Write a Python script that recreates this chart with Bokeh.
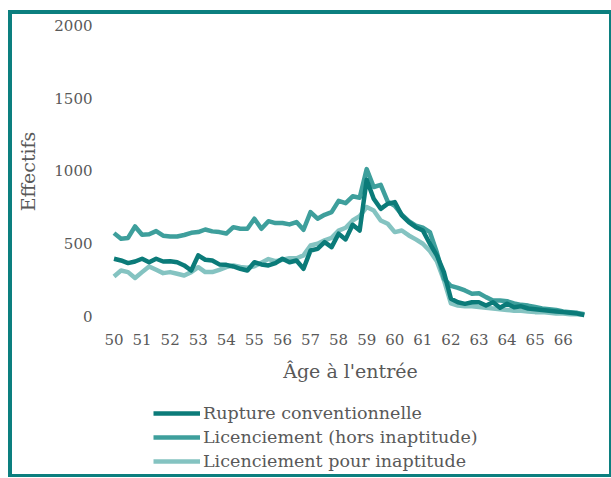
from bokeh.plotting import figure
from bokeh.models import FixedTicker, Legend, LegendItem, Range1d, Spacer
from bokeh.layouts import column, row
from bokeh.embed import file_html
from bokeh.resources import INLINE

# ---- data (quarterly) ----
ages = [50.0, 50.25, 50.5, 50.75, 51.0, 51.25, 51.5, 51.75, 52.0, 52.25, 52.5, 52.75,
        53.0, 53.25, 53.5, 53.75, 54.0, 54.25, 54.5, 54.75, 55.0, 55.25, 55.5, 55.75,
        56.0, 56.25, 56.5, 56.75, 57.0, 57.25, 57.5, 57.75, 58.0, 58.25, 58.5, 58.75,
        59.0, 59.25, 59.5, 59.75, 60.0, 60.25, 60.5, 60.75, 61.0, 61.25, 61.5, 61.75,
        62.0, 62.25, 62.5, 62.75, 63.0, 63.25, 63.5, 63.75, 64.0, 64.25, 64.5, 64.75,
        65.0, 65.25, 65.5, 65.75, 66.0, 66.25, 66.5, 66.75]

rupture = [397, 385, 367, 378, 397, 373, 397, 378, 380, 373, 351, 316,
           420, 390, 385, 358, 355, 344, 328, 316, 373, 358, 351, 367,
           397, 373, 385, 328, 454, 465, 511, 477, 569, 530, 630, 591,
           940, 809, 740, 775, 786, 695, 649, 614, 591, 500, 420, 305,
           122, 98, 87, 98, 98, 76, 98, 60, 87, 64, 70, 55,
           50, 45, 40, 35, 30, 25, 20, 10]

licenciement_hors = [573, 534, 540, 619, 562, 565, 587, 555, 550, 550, 560, 575,
                     580, 598, 585, 580, 570, 614, 603, 603, 672, 603, 655, 642,
                     642, 633, 649, 596, 717, 672, 699, 717, 795, 779, 826, 816,
                     1013, 890, 905, 790, 760, 700, 655, 625, 610, 580, 440, 260,
                     210, 197, 179, 156, 160, 133, 110, 110, 105, 90, 80, 75,
                     65, 55, 50, 45, 35, 30, 25, 15]

licenciement_inapt = [275, 316, 305, 265, 305, 344, 321, 298, 305, 294, 282, 305,
                      339, 305, 305, 321, 339, 351, 340, 335, 345, 370, 395, 380,
                      390, 400, 400, 420, 488, 500, 523, 540, 590, 610, 660, 690,
                      752, 729, 660, 637, 580, 591, 557, 530, 500, 450, 380, 250,
                      90, 75, 70, 70, 65, 60, 55, 50, 45, 40, 40, 35,
                      30, 30, 25, 20, 20, 15, 15, 10]

series_names = ["Rupture conventionnelle", "Licenciement (hors inaptitude)",
                "Licenciement pour inaptitude"]
x_ticks = [50, 51, 52, 53, 54, 55, 56, 57, 58, 59, 60, 61, 62, 63, 64, 65, 66]
y_ticks = [0, 500, 1000, 1500, 2000]

# ---- styling ----
FONT = "DejaVu Serif"
TXT = "#595959"
C_DARK = "#0b7b79"
C_MED = "#3e9f9c"
C_LIGHT = "#84c3c1"
BORDER = "#0c7f7f"
LW = 4.5

# ---- main chart ----
p = figure(width=597, height=386, output_backend="svg", toolbar_location=None,
           x_range=Range1d(49.697, 67.150), y_range=Range1d(-34.4, 2027.5),
           min_border_left=93, min_border_right=14, min_border_top=7,
           min_border_bottom=79)
p.outline_line_color = None
p.xgrid.grid_line_color = None
p.ygrid.grid_line_color = None

p.line(ages, licenciement_inapt, line_color=C_LIGHT, line_width=LW, line_join="round")
p.line(ages, licenciement_hors, line_color=C_MED, line_width=LW, line_join="round")
p.line(ages, rupture, line_color=C_DARK, line_width=LW, line_join="round")

for ax in (p.xaxis[0], p.yaxis[0]):
    ax.axis_line_color = None
    ax.major_tick_line_color = None
    ax.minor_tick_line_color = None
    ax.major_tick_out = 0
    ax.major_tick_in = 0
    ax.minor_tick_out = 0
    ax.minor_tick_in = 0
    ax.major_label_text_font = FONT
    ax.major_label_text_color = TXT
    ax.major_label_text_font_size = "15px"
    ax.axis_label_text_font = FONT
    ax.axis_label_text_color = TXT
    ax.axis_label_text_font_size = "19px"
    ax.axis_label_text_font_style = "normal"

p.xaxis.ticker = FixedTicker(ticks=x_ticks)
p.yaxis.ticker = FixedTicker(ticks=y_ticks)
p.xaxis.axis_label = "Âge à l'entrée"
p.yaxis.axis_label = "Effectifs"
p.xaxis.major_label_standoff = 12
p.xaxis.axis_label_standoff = 12
p.yaxis.major_label_standoff = 13
p.yaxis.axis_label_standoff = 12

# ---- legend (separate strip below the chart; its frame is aligned with the chart's) ----
lf = figure(width=597, height=74, output_backend="svg", toolbar_location=None,
            x_range=Range1d(0, 1), y_range=Range1d(0, 1),
            x_axis_location=None, y_axis_location=None, min_border=0)
lf.outline_line_color = None
lf.grid.visible = False
# same series, entirely outside this strip's visible range: only their legend glyphs show
k_dark = lf.line(ages, rupture, line_color=C_DARK, line_width=LW)
k_med = lf.line(ages, licenciement_hors, line_color=C_MED, line_width=LW)
k_light = lf.line(ages, licenciement_inapt, line_color=C_LIGHT, line_width=LW)

legend = Legend(items=[LegendItem(label=series_names[0], renderers=[k_dark]),
                       LegendItem(label=series_names[1], renderers=[k_med]),
                       LegendItem(label=series_names[2], renderers=[k_light])],
                location=(48, 2), orientation="vertical")
legend.label_text_font = FONT
legend.label_text_color = TXT
legend.label_text_font_size = "17.5px"
legend.glyph_width = 47
legend.glyph_height = 22
legend.label_height = 22
legend.label_standoff = 3
legend.spacing = 2
legend.padding = 0
legend.margin = 0
legend.border_line_color = None
legend.background_fill_alpha = 0
lf.add_layout(legend, "center")


def strip(w, h):
    return Spacer(width=w, height=h, styles={"background-color": BORDER})


inner = column(strip(597, 4), p, lf, strip(597, 3), spacing=0)
mid = row(Spacer(width=8, height=467), strip(4, 467), inner, strip(2, 467), spacing=0)
layout = column(Spacer(width=611, height=10), mid, spacing=0)

open("out.html", "w").write(file_html(layout, INLINE))
